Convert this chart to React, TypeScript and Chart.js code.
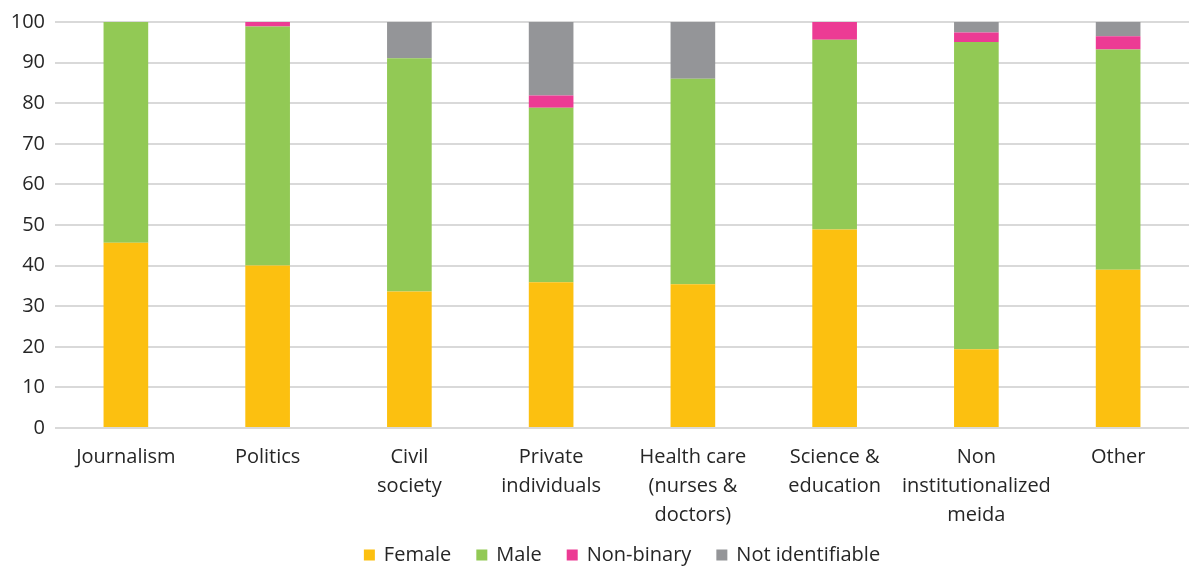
import React, { useEffect, useRef } from "react";
import { Chart, registerables } from "chart.js";

Chart.register(...registerables);

const categories: string[][] = [
  ["Journalism"],
  ["Politics"],
  ["Civil", "society"],
  ["Private", "individuals"],
  ["Health care", "(nurses &", "doctors)"],
  ["Science &", "education"],
  ["Non", "institutionalized", "meida"],
  ["Other"],
];

const female = [45.6, 40.0, 33.6, 35.9, 35.4, 48.9, 19.4, 39.0];
const male = [54.4, 58.9, 57.5, 43.0, 50.6, 46.7, 75.7, 54.2];
const nonBinary = [0, 1.1, 0, 3.0, 0, 4.4, 2.3, 3.3];
const notIdentifiable = [0, 0, 8.9, 18.1, 14.0, 0, 2.6, 3.5];

const seriesNames = ["Female", "Male", "Non-binary", "Not identifiable"];
const seriesColors = ["#FCC010", "#92C955", "#EC3B94", "#949598"];

const yTicks = [0, 10, 20, 30, 40, 50, 60, 70, 80, 90, 100];

const FONT = "'Open Sans', 'Noto Sans', sans-serif";
const TEXT = "#262626";

// Legend row drawn under the chart: small square swatches with wide gaps between entries.
const bottomLegend = {
  id: "bottomLegend",
  afterDraw(chart: any) {
    const ctx = chart.ctx as CanvasRenderingContext2D;
    const box = 11;
    const boxGap = 9;
    const itemGap = 25;
    ctx.save();
    ctx.font = `20px ${FONT}`;
    ctx.textBaseline = "middle";
    const items = chart.data.datasets.map((ds: any) => ({
      text: ds.label as string,
      color: ds.backgroundColor as string,
      w: ctx.measureText(ds.label).width,
    }));
    const total =
      items.reduce((s: number, it: any) => s + box + boxGap + it.w, 0) + itemGap * (items.length - 1);
    const centerX = (chart.chartArea.left + chart.chartArea.right) / 2;
    const y = 555;
    let x = centerX - total / 2;
    for (const it of items) {
      ctx.fillStyle = it.color;
      ctx.fillRect(x, y - box / 2, box, box);
      x += box + boxGap;
      ctx.fillStyle = TEXT;
      ctx.fillText(it.text, x, y);
      x += it.w + itemGap;
    }
    ctx.restore();
  },
};

export default function App() {
  const canvasRef = useRef<HTMLCanvasElement | null>(null);

  useEffect(() => {
    document.body.style.margin = "0";
    const canvas = canvasRef.current;
    if (!canvas) return;
    const chart = new Chart(canvas, {
      type: "bar",
      data: {
        labels: categories,
        datasets: [
          { label: seriesNames[0], data: female, backgroundColor: seriesColors[0] },
          { label: seriesNames[1], data: male, backgroundColor: seriesColors[1] },
          { label: seriesNames[2], data: nonBinary, backgroundColor: seriesColors[2] },
          { label: seriesNames[3], data: notIdentifiable, backgroundColor: seriesColors[3] },
        ],
      },
      options: {
        responsive: false,
        animation: false,
        layout: { padding: { left: 0, right: 0, top: 12, bottom: 34 } },
        datasets: {
          bar: { categoryPercentage: 1, barPercentage: 0.315, borderWidth: 0 },
        },
        plugins: {
          tooltip: { enabled: false },
          legend: { display: false },
        },
        scales: {
          x: {
            stacked: true,
            grid: { display: false },
            border: { display: false },
            ticks: {
              color: TEXT,
              font: { family: FONT, size: 20, lineHeight: 1.45 },
              maxRotation: 0,
              autoSkip: false,
              padding: 7,
            },
            afterFit: (scale: any) => {
              scale.height = 108;
            },
          },
          y: {
            stacked: true,
            min: 0,
            max: 100,
            afterBuildTicks: (scale: any) => {
              scale.ticks = yTicks.map((v) => ({ value: v }));
            },
            grid: { color: "#D9D9D9", lineWidth: 2, drawTicks: false },
            border: { display: false },
            ticks: {
              color: TEXT,
              font: { family: FONT, size: 20 },
              padding: 10,
            },
            afterFit: (scale: any) => {
              scale.width = 55;
            },
          },
        },
      },
      plugins: [bottomLegend],
    });
    return () => chart.destroy();
  }, []);

  return (
    <div style={{ width: 1189, height: 570 }}>
      <canvas ref={canvasRef} width={1189} height={570} />
    </div>
  );
}
